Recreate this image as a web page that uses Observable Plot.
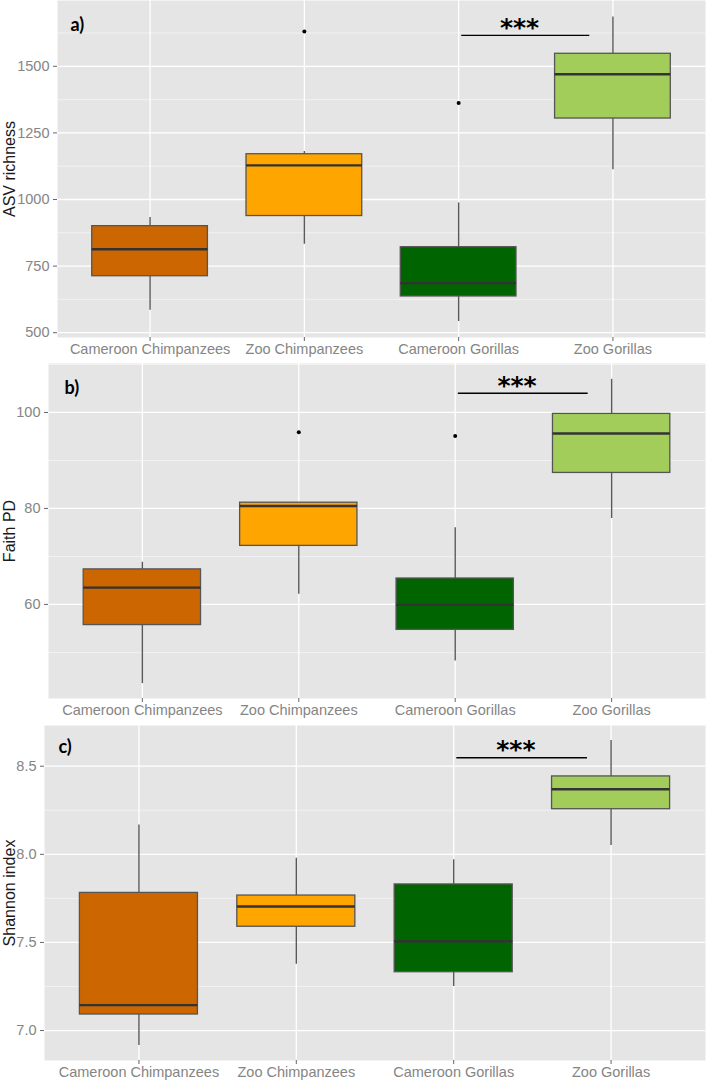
<!DOCTYPE html>
<html>
<head>
<meta charset="utf-8">
<script src="https://cdn.jsdelivr.net/npm/d3@7"></script>
<script src="https://cdn.jsdelivr.net/npm/@observablehq/plot@0.6"></script>
<style>
  html, body { margin: 0; padding: 0; background: white; }
  #chart { width: 707px; }
  #chart svg { display: block; }
</style>
</head>
<body>
<div id="chart"></div>
<script>
// ---------- shared categories ----------
const groups = ["Cameroon Chimpanzees", "Zoo Chimpanzees", "Cameroon Gorillas", "Zoo Gorillas"];
const fillColors = ["#cc6600", "#ffa500", "#006400", "#a2cd5a"];

// ---------- panel a: ASV richness ----------
const asvLow = [584, 832, 542, 1112];
const asvQ1 = [712, 938, 636, 1304];
const asvMedian = [813, 1128, 686, 1470];
const asvQ3 = [900, 1170, 821, 1547];
const asvHigh = [932, 1180, 987, 1685];
const asvOutlierGroup = [1, 2];
const asvOutlierValue = [1631, 1362];
const asvTicks = [500, 750, 1000, 1250, 1500];
const asvMinorTicks = [625, 875, 1125, 1375, 1625];
const asvSigValue = 1616;

// ---------- panel b: Faith PD ----------
const faithLow = [43.5, 62.1, 48.2, 77.9];
const faithQ1 = [55.7, 72.2, 54.7, 87.4];
const faithMedian = [63.5, 80.5, 59.9, 95.6];
const faithQ3 = [67.3, 81.2, 65.4, 99.7];
const faithHigh = [68.8, 81.2, 76.0, 106.9];
const faithOutlierGroup = [1, 2];
const faithOutlierValue = [95.9, 95.1];
const faithTicks = [60, 80, 100];
const faithMinorTicks = [50, 70, 90, 110];
const faithSigValue = 104;

// ---------- panel c: Shannon index ----------
const shannonLow = [6.915, 7.376, 7.25, 8.05];
const shannonQ1 = [7.091, 7.589, 7.331, 8.256];
const shannonMedian = [7.144, 7.704, 7.507, 8.369];
const shannonQ3 = [7.781, 7.766, 7.829, 8.442];
const shannonHigh = [8.167, 7.978, 7.969, 8.646];
const shannonOutlierGroup = [];
const shannonOutlierValue = [];
const shannonTicks = [7.0, 7.5, 8.0, 8.5];
const shannonMinorTicks = [7.25, 7.75, 8.25];
const shannonSigValue = 8.548;

// significance bracket spans from Cameroon Gorillas (index 2) toward Zoo Gorillas
const sigFrom = 2.02;
const sigTo = 2.85;
const sigStars = "***";
const groupIndex = groups.map((_, i) => i);

const font = "'Liberation Sans', Arial, Helvetica, sans-serif";

function panel(cfg) {
  const stats = groupIndex.map(i => ({
    i, group: groups[i], color: fillColors[i],
    low: cfg.low[i], q1: cfg.q1[i], med: cfg.median[i], q3: cfg.q3[i], high: cfg.high[i]
  }));
  const outliers = cfg.outGroup.map((g, k) => ({i: g, v: cfg.outValue[k]}));
  const half = 0.375;
  return Plot.plot({
    width: 707,
    height: cfg.height,
    marginLeft: cfg.ml,
    marginRight: 2,
    marginTop: cfg.mt,
    marginBottom: cfg.mb,
    style: {fontFamily: font, background: "white"},
    x: {domain: [-0.6, 3.6]},
    y: {domain: cfg.domain},
    color: {type: "identity"},
    marks: [
      Plot.frame({fill: "#e5e5e5", stroke: null}),
      Plot.ruleY(cfg.minor, {stroke: "white", strokeWidth: 0.7, strokeOpacity: 0.7}),
      Plot.ruleY(cfg.ticks, {stroke: "white", strokeWidth: 1.3}),
      Plot.ruleX(groupIndex, {stroke: "white", strokeWidth: 1.3}),
      Plot.axisY({ticks: cfg.ticks, tickFormat: cfg.format, tickSize: 4, tickPadding: 4,
        stroke: "#666", fill: "#858585", fontSize: 14.5, label: null}),
      Plot.axisX({ticks: groupIndex, tickFormat: i => groups[i], tickSize: 4, tickPadding: 2,
        stroke: "#666", fill: "#858585", fontSize: 14.5, label: null}),
      Plot.ruleX(stats, {x: "i", y1: "low", y2: "q1", stroke: "#595959", strokeWidth: 1.4}),
      Plot.ruleX(stats, {x: "i", y1: "q3", y2: "high", stroke: "#595959", strokeWidth: 1.4}),
      Plot.rect(stats, {x1: d => d.i - half, x2: d => d.i + half, y1: "q1", y2: "q3",
        fill: "color", stroke: "#555", strokeWidth: 1.3}),
      Plot.ruleY(stats, {x1: d => d.i - half, x2: d => d.i + half, y: "med", stroke: "#333", strokeWidth: 2.4}),
      Plot.dot(outliers, {x: "i", y: "v", r: 2, fill: "black", stroke: null}),
      Plot.ruleY([cfg.sig], {x1: sigFrom, x2: sigTo, y: d => d, stroke: "black", strokeWidth: 1.4}),
      Plot.text([cfg.sig], {x: (sigFrom + sigTo) / 2 - 0.04, y: d => d, text: () => sigStars,
        dy: cfg.starDy, fontSize: 25, fontWeight: "bold", fontFamily: "'DejaVu Sans', sans-serif",
        fill: "black", lineAnchor: "middle", textAnchor: "middle"}),
      Plot.text([cfg.tag], {frameAnchor: "top-left", text: d => d, dx: cfg.tagDx, dy: cfg.tagDy,
        fontSize: 18, fontWeight: "bold", fontFamily: "Lato, 'Open Sans', sans-serif", fill: "black",
        textAnchor: "start", lineAnchor: "middle"}),
      Plot.text([cfg.title], {frameAnchor: "left", text: d => d, rotate: -90, dx: -(cfg.ml - 9),
        fontSize: 16, fill: "#1a1a1a", textAnchor: "middle", lineAnchor: "middle"})
    ]
  });
}

const chart = document.getElementById("chart");
chart.append(panel({
  height: 358, mt: 0, mb: 21, ml: 57, domain: [482, 1747],
  low: asvLow, q1: asvQ1, median: asvMedian, q3: asvQ3, high: asvHigh,
  outGroup: asvOutlierGroup, outValue: asvOutlierValue,
  ticks: asvTicks, minor: asvMinorTicks, format: d3.format("d"),
  sig: asvSigValue, starDy: -7, tag: "a)", tagDx: 13, tagDy: 25, title: "ASV richness"
}));
chart.append(panel({
  height: 360, mt: 5, mb: 20, ml: 48, domain: [40.4, 110.2],
  low: faithLow, q1: faithQ1, median: faithMedian, q3: faithQ3, high: faithHigh,
  outGroup: faithOutlierGroup, outValue: faithOutlierValue,
  ticks: faithTicks, minor: faithMinorTicks, format: d3.format("d"),
  sig: faithSigValue, starDy: -7, tag: "b)", tagDx: 16, tagDy: 25, title: "Faith PD"
}));
chart.append(panel({
  height: 364, mt: 7, mb: 22, ml: 44, domain: [6.83, 8.731],
  low: shannonLow, q1: shannonQ1, median: shannonMedian, q3: shannonQ3, high: shannonHigh,
  outGroup: shannonOutlierGroup, outValue: shannonOutlierValue,
  ticks: shannonTicks, minor: shannonMinorTicks, format: d3.format(".1f"),
  sig: shannonSigValue, starDy: -7.5, tag: "c)", tagDx: 14, tagDy: 21.5, title: "Shannon index"
}));
</script>
</body>
</html>
